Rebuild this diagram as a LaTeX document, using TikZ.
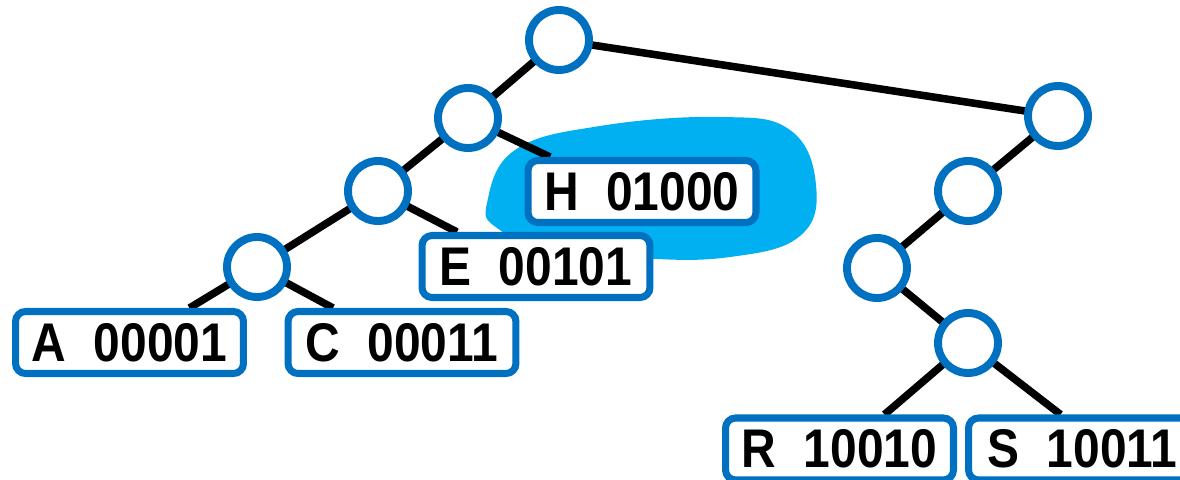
\documentclass[tikz,border=0pt]{standalone}
\usepackage{fontspec}
\usetikzlibrary{calc}
\newfontfamily\labfont[FakeStretch=0.88]{Liberation Sans}
\definecolor{nodeblue}{HTML}{0070C0}
\definecolor{blobblue}{HTML}{00B0F0}
\pgfdeclarelayer{blob}
\pgfdeclarelayer{edges}
\pgfsetlayers{blob,edges,main}
\begin{document}
\begin{tikzpicture}[x=0.02cm,y=-0.02cm,
  inner/.style={circle,draw=nodeblue,fill=white,line width=4.5pt,minimum size=1.2cm,inner sep=0pt},
  leaf/.style={rectangle,rounded corners=0.2cm,draw=nodeblue,fill=white,line width=4pt,
    minimum width=4.56cm,minimum height=1.24cm,inner sep=0pt,
    font=\labfont\bfseries\fontsize{31}{37}\selectfont},
  edge/.style={line width=4.3pt,black}]
\useasboundingbox (0,0) rectangle (1180,480);
% highlight blob
\begin{pgfonlayer}{blob}
\fill[blobblue] plot[smooth cycle,tension=0.7] coordinates {(487,203) (515,150) (600,126) (720,117) (790,130) (816,185) (800,236) (730,257) (640,258) (545,246) (497,228)};
\end{pgfonlayer}
% nodes
\node[inner] (root) at (559,40) {};
\node[inner] (l1) at (468,118) {};
\node[inner] (l2) at (378,191) {};
\node[inner] (l3) at (257,267) {};
\node[inner] (r1) at (1058,116) {};
\node[inner] (r2) at (968,191) {};
\node[inner] (r3) at (877,268) {};
\node[inner] (r4) at (968,343) {};
\node[leaf] (A) at (129.5,342.5) {A\hspace{0.5em}00001};
\node[leaf] (C) at (402,342.5) {C\hspace{0.5em}00011};
\node[leaf] (E) at (536,266.5) {E\hspace{0.5em}00101};
\node[leaf] (H) at (642,191.5) {H\hspace{0.5em}01000};
\node[leaf] (R) at (839.5,449) {R\hspace{0.5em}10010};
\node[leaf] (S) at (1082.5,449) {S\hspace{0.5em}10011};
% edges
\begin{pgfonlayer}{edges}
\draw[edge] (root.center) -- (l1.center);
\draw[edge] (root.center) -- (r1.center);
\draw[edge] (l1.center) -- (l2.center);
\draw[edge] (l2.center) -- (l3.center);
\draw[edge] (r1.center) -- (r2.center);
\draw[edge] (r2.center) -- (r3.center);
\draw[edge] (r3.center) -- (r4.center);
\draw[edge] (l3.center) -- ($(A.north)+(60,0)$);
\draw[edge] (l3.center) -- ($(C.north)+(-69,0)$);
\draw[edge] (l2.center) -- ($(E.north)+(-79,0)$);
\draw[edge] (l1.center) -- ($(H.north)+(-92,0)$);
\draw[edge] (r4.center) -- ($(R.north)+(45,0)$);
\draw[edge] (r4.center) -- ($(S.north)+(-22,0)$);
\end{pgfonlayer}
\end{tikzpicture}
\end{document}
